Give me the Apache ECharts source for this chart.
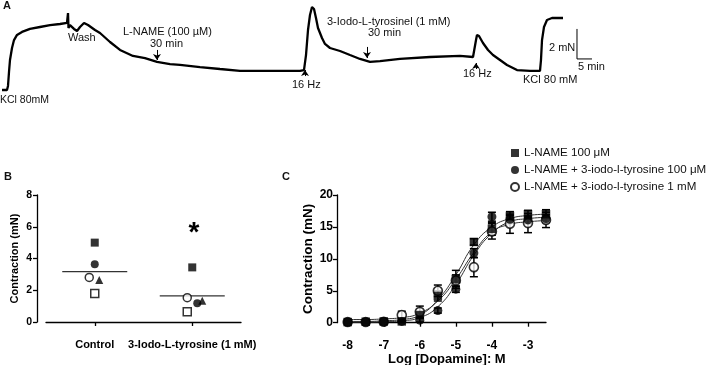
<!DOCTYPE html>
<html><head><meta charset="utf-8">
<script src="https://cdn.jsdelivr.net/npm/echarts@6/dist/echarts.min.js"></script>
<style>html,body{margin:0;padding:0;background:#fff}#c{width:708px;height:365px}</style>
</head><body><div id="c"></div>
<script>
// ---------- Panel A: isometric tension trace (time in min, tension in mN) ----------
const traceTime = [0.67,2.33,2.67,3.0,3.33,4.0,4.67,5.67,7.33,10,13.33,16.67,20,22.33,22.67,22.83,23.33,24.67,25.67,26.67,28,29.33,31.67,33.33,36.67,40,44.33,48.33,52.33,56.67,60,66.67,73.33,80,90,100,101.33,102,102.67,103.33,104,104.67,105.33,106,107.33,108.33,110,113.33,116.67,120,123.33,126.67,133.33,143.33,153.33,157.67,158,158.67,159,159.67,161,162.67,164.33,166.67,169,172.33,176.67,180,180.33,180.67,181.33,182.33,184,187.67];
const traceForce = [1.0,1.0,1.27,2.2,3.0,3.8,4.33,4.67,4.87,5.07,5.2,5.33,5.4,5.47,6.13,5.13,5.33,5.07,4.93,5.2,5.47,5.33,5.0,4.8,4.2,3.67,3.27,3.13,2.87,2.73,2.67,2.53,2.4,2.27,2.27,2.27,2.33,3.33,5.0,6.0,6.53,6.4,5.8,5.13,4.47,4.07,3.8,3.6,3.33,3.07,2.87,2.93,3.07,3.2,3.27,3.2,3.33,4.33,4.67,4.6,4.13,3.67,3.33,3.0,2.67,2.33,2.27,2.27,3.0,4.33,5.2,5.67,5.8,5.8];
// arrows: [time, fromForce, toForce]
const arrowsA = [[52.33,3.67,3.0],[101.67,1.93,2.33],[122.33,3.87,3.13],[158.67,2.4,2.8]];
// scale bar: 2 mN, 5 min
const scaleBarTime = [192.33,192.33,197.33];
const scaleBarForce = [5.07,3.07,3.07];

// ---------- Panel B ----------
const groupsB = ['Control','3-Iodo-L-tyrosine (1 mM)'];
const bSquareFilled = [5.0, 3.44];
const bCircleFilled = [3.63, 1.18];
const bCircleOpen = [2.81, 1.53];
const bTriangle = [2.64, 1.34];
const bSquareOpen = [1.80, 0.65];
const bMean = [3.17, 1.64];

// ---------- Panel C ----------
const doseC = [-8,-7.5,-7,-6.5,-6,-5.5,-5,-4.5,-4,-3.5,-3,-2.5];
const xTicksC = [-8,-7,-6,-5,-4,-3];
const cSquareMean = [0.1,0.15,0.2,0.2,1.2,4.2,6.8,12.65,14.7,16.7,17.0,17.0];
const cSquareSem  = [0.1,0.1,0.1,0.1,0.4,0.8,1.4,0.5,1.0,0.7,0.6,0.7];
const cCircleMean = [0.1,0.1,0.15,0.2,0.4,1.9,5.25,10.9,16.6,16.2,16.1,16.3];
const cCircleSem  = [0.1,0.1,0.1,0.1,0.3,0.4,0.5,0.7,0.7,0.6,0.6,0.6];
const cOpenMean   = [0.1,0.1,0.15,1.2,1.7,5.0,6.6,8.7,14.3,15.5,15.6,16.1];
const cOpenSem    = [0.1,0.1,0.1,0.6,0.9,0.9,0.9,1.5,1.2,1.5,1.5,1.2];
// fitted curves
const cSquareFit = [0.2,0.2,0.3,0.5,1.2,3.6,7.5,12.2,15.0,16.3,16.8,17.0];
const cCircleFit = [0.1,0.1,0.15,0.3,0.8,2.5,6.0,10.6,14.0,15.8,16.3,16.5];
const cOpenFit   = [0.5,0.5,0.6,0.8,1.5,3.4,6.8,11.0,14.2,15.4,15.8,16.0];
const legendC = ['L-NAME 100 \u03bcM','L-NAME + 3-iodo-l-tyrosine 100 \u03bcM','L-NAME + 3-iodo-l-tyrosine 1 mM'];

const FONT = '"Liberation Sans", Arial, sans-serif';
const chart = echarts.init(document.getElementById('c'), null, {renderer:'canvas'});

function pair(xs, ys){ return xs.map((x,i)=>[x, ys[i]]); }
function errData(m, s){ return doseC.map((d,i)=>[d, m[i], s[i]]); }

const axisBlack = {lineStyle:{color:'#000', width:1.3}};

function errSeries(m, s){
  return {
    type:'custom', xAxisIndex:2, yAxisIndex:2, z:3, silent:true,
    encode:{x:0, y:1},
    data: errData(m, s),
    renderItem: function(params, api){
      const x = api.value(0), y = api.value(1), e = api.value(2);
      const top = api.coord([x, y + e]);
      const bot = api.coord([x, y - e]);
      const hw = 4;
      const st = {stroke:'#000', lineWidth:1.5};
      return {type:'group', children:[
        {type:'line', shape:{x1:top[0], y1:top[1], x2:bot[0], y2:bot[1]}, style:st},
        {type:'line', shape:{x1:top[0]-hw, y1:top[1], x2:top[0]+hw, y2:top[1]}, style:st},
        {type:'line', shape:{x1:bot[0]-hw, y1:bot[1], x2:bot[0]+hw, y2:bot[1]}, style:st}
      ]};
    }
  };
}
function fitSeries(f){
  return {type:'line', xAxisIndex:2, yAxisIndex:2, z:2, data: pair(doseC, f), smooth:0.5,
    symbol:'none', lineStyle:{color:'#333', width:1}, silent:true};
}
function bScatter(vals, symbol, filled, offs){
  return {type:'scatter', xAxisIndex:1, yAxisIndex:1, symbol:symbol, symbolSize:8, z:4,
    itemStyle:{color: filled?'#000':'#fff', borderColor:'#000', borderWidth: filled?0:1.5},
    data: vals.map((v,i)=>({value:v, symbolOffset:[offs[i],0]}))};
}

const texts = [
  ['A', 3, 6, 11, 'bold'],
  ['KCl 80mM', 0, 100, 10.5, 'normal'],
  ['Wash', 68, 38, 11, 'normal'],
  ['L-NAME (100 \u00b5M)', 123, 32, 11, 'normal'],
  ['30 min', 150, 44, 11, 'normal'],
  ['16 Hz', 292, 85, 11, 'normal'],
  ['3-Iodo-L-tyrosinel (1 mM)', 327, 22, 11, 'normal'],
  ['30 min', 368, 33, 11, 'normal'],
  ['16 Hz', 463, 74, 11, 'normal'],
  ['KCl 80 mM', 523, 80, 11, 'normal'],
  ['2 mN', 549, 48, 11, 'normal'],
  ['5 min', 578, 67, 11, 'normal'],
  ['B', 4, 177, 11, 'bold'],
  ['C', 282, 177, 11, 'bold']
];
const graphic = texts.map(t=>({type:'text', x:t[1], y:t[2], silent:true,
  style:{text:t[0], fontFamily:FONT, fontSize:t[3], fontWeight:t[4], fill:'#111', align:'left', verticalAlign:'middle'}}));
graphic.push({type:'text', x:194, y:233, silent:true,
  style:{text:'*', fontFamily:FONT, fontSize:28, fontWeight:'bold', fill:'#000', align:'center', verticalAlign:'middle'}});

const option = {
  animation:false,
  backgroundColor:'#fff',
  textStyle:{fontFamily:FONT},
  graphic: graphic,
  legend:{
    data: legendC, orient:'vertical', left:510, top:146, itemWidth:8, itemHeight:8, itemGap:3,
    padding:0, textStyle:{fontFamily:FONT, fontSize:11.6, color:'#111', lineHeight:14}, selectedMode:false
  },
  grid:[
    {left:0, top:0, width:708, height:105, outerBoundsMode:'none'},
    {left:46, top:195, width:195, height:127, outerBoundsMode:'none'},
    {left:347.7, top:195, width:198.3, height:127.7, outerBoundsMode:'none'}
  ],
  xAxis:[
    {gridIndex:0, type:'value', min:0, max:236, show:false},
    {gridIndex:1, type:'category', data:groupsB, offset:9, boundaryGap:true,
      axisLine:{show:true, ...axisBlack}, splitLine:{show:false},
      axisTick:{show:true, alignWithLabel:true, length:4, lineStyle:{color:'#000', width:1.3}},
      axisLabel:{interval:0, color:'#000', fontFamily:FONT, fontWeight:'bold', fontSize:11, margin:8}},
    {gridIndex:2, type:'value', min:-8, max:-2.5, interval:1, offset:11,
      axisLine:{show:true, ...axisBlack}, splitLine:{show:false},
      axisTick:{show:true, customValues:xTicksC, length:4, lineStyle:{color:'#000', width:1.3}},
      axisLabel:{customValues:xTicksC, color:'#000', fontFamily:FONT, fontWeight:'bold', fontSize:12, margin:6,
        formatter: v => String(v)},
      name:'Log [Dopamine]: M', nameLocation:'middle', nameGap:17,
      nameTextStyle:{color:'#000', fontFamily:FONT, fontWeight:'bold', fontSize:13}}
  ],
  yAxis:[
    {gridIndex:0, type:'value', min:0, max:7, show:false},
    {gridIndex:1, type:'value', min:0, max:8, interval:2, offset:9,
      axisLine:{show:true, ...axisBlack}, splitLine:{show:false},
      axisTick:{show:true, length:4, lineStyle:{color:'#000', width:1.3}},
      axisLabel:{color:'#000', fontFamily:FONT, fontWeight:'bold', fontSize:10.5, margin:5},
      name:'Contraction (mN)', nameLocation:'middle', nameGap:17,
      nameTextStyle:{color:'#000', fontFamily:FONT, fontWeight:'bold', fontSize:11}},
    {gridIndex:2, type:'value', min:0, max:20, interval:5, offset:10.7,
      axisLine:{show:true, ...axisBlack}, splitLine:{show:false},
      axisTick:{show:true, length:4, lineStyle:{color:'#000', width:1.3}},
      axisLabel:{color:'#000', fontFamily:FONT, fontWeight:'bold', fontSize:12, margin:4},
      name:'Contraction (mN)', nameLocation:'middle', nameGap:20,
      nameTextStyle:{color:'#000', fontFamily:FONT, fontWeight:'bold', fontSize:13.5}}
  ],
  series:[
    {type:'line', xAxisIndex:0, yAxisIndex:0, data: pair(traceTime, traceForce), symbol:'none',
      lineStyle:{color:'#000', width:2.3}, silent:true,
      markLine:{silent:true, symbol:['none','arrow'], symbolSize:6, animation:false,
        lineStyle:{color:'#000', width:1, type:'solid'}, label:{show:false},
        emphasis:{disabled:true},
        data: arrowsA.map(a=>[{coord:[a[0], a[1]]},{coord:[a[0], a[2]]}])}},
    {type:'line', xAxisIndex:0, yAxisIndex:0, data: pair(scaleBarTime, scaleBarForce), symbol:'none',
      lineStyle:{color:'#000', width:1}, silent:true},
    // Panel B
    {type:'scatter', xAxisIndex:1, yAxisIndex:1, symbol:'rect', symbolSize:[65,1.3], z:3,
      itemStyle:{color:'#000'}, data: bMean, silent:true},
    bScatter(bSquareFilled, 'rect', true, [0,0]),
    bScatter(bCircleFilled, 'circle', true, [0,5]),
    bScatter(bCircleOpen, 'circle', false, [-5.5,-5]),
    bScatter(bTriangle, 'triangle', true, [4.5,10]),
    bScatter(bSquareOpen, 'rect', false, [0,-5]),
    // Panel C
    fitSeries(cSquareFit), fitSeries(cCircleFit), fitSeries(cOpenFit),
    errSeries(cOpenMean, cOpenSem), errSeries(cSquareMean, cSquareSem), errSeries(cCircleMean, cCircleSem),
    {name:legendC[2], type:'scatter', xAxisIndex:2, yAxisIndex:2, symbol:'circle', symbolSize:9, z:5,
      itemStyle:{color:'#fff', borderColor:'#000', borderWidth:1.6}, data: pair(doseC, cOpenMean)},
    {name:legendC[0], type:'scatter', xAxisIndex:2, yAxisIndex:2, symbol:'rect', symbolSize:8.5, z:5,
      itemStyle:{color:'#000'}, data: pair(doseC, cSquareMean)},
    {name:legendC[1], type:'scatter', xAxisIndex:2, yAxisIndex:2, symbol:'circle', symbolSize:9, z:5,
      itemStyle:{color:'#000'}, data: pair(doseC, cCircleMean)}
  ]
};
chart.setOption(option);
</script>
</body></html>
